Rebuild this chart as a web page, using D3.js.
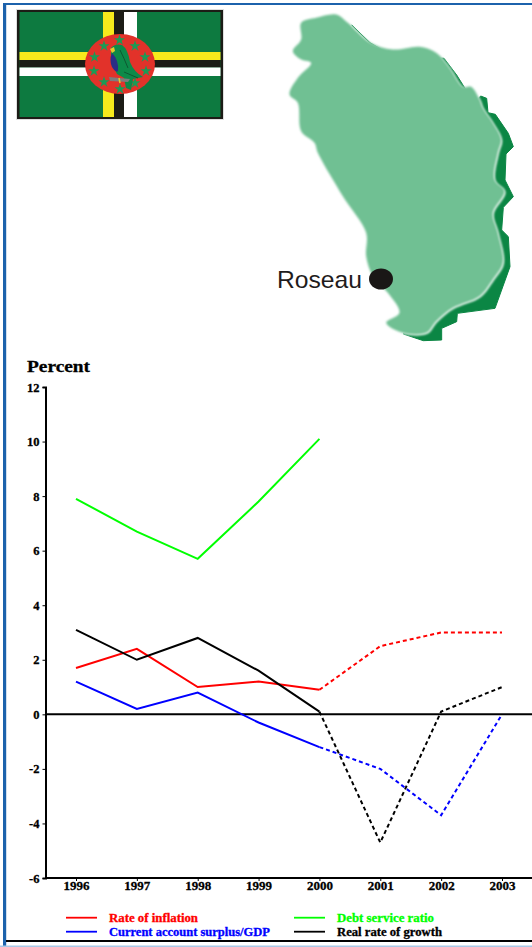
<!DOCTYPE html>
<html><head><meta charset="utf-8">
<script src="https://cdn.jsdelivr.net/npm/d3@7"></script>
<style>html,body{margin:0;padding:0;background:#fff;overflow:hidden}svg{display:block}text{font-family:"Liberation Serif",serif;font-weight:bold}</style>
</head><body><svg id="c" width="532" height="947"></svg>
<script>
const years=[1996,1997,1998,1999,2000,2001,2002,2003];
const inflation=[1.7,2.4,1.0,1.2,0.9,2.5,3.0,3.0];
const debtService=[7.9,6.7,5.7,7.8,10.1,null,null,null];
const currentAccount=[1.2,0.2,0.8,-0.3,-1.2,-2.0,-3.7,0.0];
const growth=[3.1,2.0,2.8,1.6,0.1,-4.7,0.1,1.0];
const yTicks=[-6,-4,-2,0,2,4,6,8,10,12];
const seriesNames=["Rate of inflation","Current account surplus/GDP","Debt service ratio","Real rate of growth"];
const seriesColors=["#ff0000","#0000ff","#00ff00","#000000"];
const seriesValues=[inflation,currentAccount,debtService,growth];
const lastActual=2000;

const svg=d3.select("#c");
const defs=svg.append("defs");
defs.append("filter").attr("id","soft").append("feGaussianBlur").attr("stdDeviation",1);
defs.append("filter").attr("id","flagsoft").append("feGaussianBlur").attr("stdDeviation",0.45);
defs.append("filter").attr("id","halo").append("feGaussianBlur").attr("stdDeviation",1.2);
// page frame
svg.append("rect").attr("x",3).attr("y",3).attr("width",3.2).attr("height",944).attr("fill","#1c62ac");
svg.append("rect").attr("x",3).attr("y",3).attr("width",529).attr("height",2).attr("fill","#1c62ac");
svg.append("rect").attr("x",0).attr("y",945.5).attr("width",532).attr("height",1.5).attr("fill","#a9c8e6");
svg.append("rect").attr("x",6).attr("y",940).attr("width",526).attr("height",2).attr("fill","#000");

// flag
const f=svg.append("g").attr("filter","url(#flagsoft)");
const R=(x,y,w,h,c)=>f.append("rect").attr("x",x).attr("y",y).attr("width",w).attr("height",h).attr("fill",c);
R(16,9,208,111,"#dedede");
R(17,10,206,109,"#1a1a14");
R(19.5,12,201,105,"#0f7a3f");
R(19.5,52,201,8,"#f6ea1e");R(19.5,60,201,7.5,"#1a1a14");R(19.5,67.5,201,8.5,"#fff");
R(103,12,11,105,"#f6ea1e");R(114,12,10,105,"#1a1a14");R(124,12,13,105,"#fff");
f.append("ellipse").attr("cx",120).attr("cy",64).attr("rx",35).attr("ry",30).attr("fill","#e2302a");
const star=d3.symbol().type(d3.symbolStar).size(38);
[[119.5,40],[135,46],[145,57],[146,71],[135,83],[120,89],[104,82],[94,71],[94.5,57],[104,46]].forEach(p=>{
  f.append("path").attr("d",star()).attr("transform",`translate(${p[0]},${p[1]})`).attr("fill","#1d9a55");
});
f.append("path").attr("d","M111 48Q115 43 122 45Q128 49 130 62Q134 72 143 77L133 79L131 90L126 88L124 78L117 74Q110 62 111 48Z").attr("fill","#0f8a4a");
f.append("path").attr("d","M112 53Q109 60 112 67Q116 73 118 71Q119 60 112 53Z").attr("fill","#2b2f86");
f.append("path").attr("d","M110 49L114 47L115 51L112 53Z").attr("fill","#e9c92c");
f.append("path").attr("d","M120 50Q124 58 128 68M124 72L138 78").attr("fill","none").attr("stroke","#0a4a2a").attr("stroke-width",0.8);
f.append("path").attr("d","M109 77L130 79L128 82L110 81Z").attr("fill","#7d7d7d");
f.append("path").attr("d","M119 78L120 83").attr("stroke","#e9c92c").attr("stroke-width",1.5);

// island
const toMap=p=>[260+p[0]/3,p[1]/3];
const darkShape=[[275,75],[330,128],[400,170],[480,170],[552,175],[590,225],[615,265],[650,300],[662,288],[680,295],[684,338],[706,343],[745,400],[760,440],[738,462],[735,540],[760,590],[730,622],[725,690],[745,710],[750,800],[705,925],[592,940],[590,965],[545,985],[545,1020],[490,1022],[430,1002],[500,800],[500,300]].map(toMap);
const lightShape=[[230,45],[265,70],[330,128],[400,150],[480,142],[530,160],[570,205],[610,262],[635,262],[660,300],[670,325],[700,370],[725,420],[715,460],[705,540],[735,575],[700,640],[715,700],[730,790],[700,840],[660,890],[580,925],[530,965],[500,1000],[430,1000],[380,970],[420,940],[385,880],[340,830],[320,770],[320,700],[250,590],[175,460],[165,430],[125,395],[115,310],[90,285],[115,235],[155,190],[125,180],[100,155],[125,120],[125,70],[170,55]].map(toMap);
const closed=d3.line().curve(d3.curveCatmullRomClosed.alpha(0.5));
svg.append("path").attr("d",d3.line().curve(d3.curveLinearClosed)(darkShape)).attr("fill","#0b8644").attr("stroke","#0b8644").attr("stroke-width",1).attr("stroke-linejoin","round");
svg.append("path").attr("d",closed(lightShape)).attr("fill","#fff").attr("filter","url(#halo)").attr("transform","translate(0.5,0.5)");
svg.append("path").attr("d",closed(lightShape)).attr("fill","#6fc093").attr("filter","url(#soft)").attr("transform","translate(-0.5,-0.5)");
svg.append("ellipse").attr("cx",381).attr("cy",279).attr("rx",12).attr("ry",10.5).attr("fill","#1a1716");
svg.append("text").attr("x",277).attr("y",288).attr("font-size",24).attr("fill","#1f1c1c").attr("textLength",85).attr("lengthAdjust","spacingAndGlyphs").style("font-family","'Liberation Sans',sans-serif").style("font-weight","normal").text("Roseau");

// chart
const x=d3.scalePoint().domain(years).range([76,502]);
const y=d3.scaleLinear().domain([-6,12]).range([878,387]);
svg.append("text").attr("x",27).attr("y",372).attr("font-size",17).attr("textLength",63).attr("lengthAdjust","spacingAndGlyphs").attr("stroke","#000").attr("stroke-width",0.3).text("Percent");
const yAxis=d3.axisLeft(y).tickValues(yTicks).tickSize(3).tickPadding(3).tickFormat(d=>d);
const gy=svg.append("g").attr("transform","translate(45.5,0)").call(yAxis);
gy.selectAll("text").attr("font-size",12.5).attr("fill","#000").attr("stroke","#000").attr("stroke-width",0.3);
gy.selectAll(".domain").attr("stroke","#000").attr("stroke-width",2);
gy.selectAll("line").attr("stroke","#000").attr("stroke-width",1);
const xAxis=d3.axisBottom(x).tickSize(3).tickPadding(0).tickFormat(d=>d);
const gx=svg.append("g").attr("transform","translate(0,878)").call(xAxis);
gx.select(".domain").remove();
gx.selectAll("line").attr("stroke","#000").attr("stroke-width",1);
gx.selectAll("text").attr("font-size",13).attr("fill","#000").attr("stroke","#000").attr("stroke-width",0.3);
[-6,0].forEach(v=>svg.append("line").attr("x1",45).attr("x2",532).attr("y1",y(v)).attr("y2",y(v)).attr("stroke","#000").attr("stroke-width",2));

const line=d3.line().defined(d=>d.v!==null).x(d=>x(d.yr)).y(d=>y(d.v));
seriesValues.forEach((vals,i)=>{
  const pts=vals.map((v,j)=>({yr:years[j],v}));
  svg.append("path").attr("d",line(pts.filter(d=>d.yr<=lastActual))).attr("fill","none").attr("stroke",seriesColors[i]).attr("stroke-width",2);
  const rest=pts.filter(d=>d.yr>=lastActual&&d.v!==null);
  if(rest.length>1) svg.append("path").attr("d",line(rest)).attr("fill","none").attr("stroke",seriesColors[i]).attr("stroke-width",2).attr("stroke-dasharray","4,3");
});

// legend
const lx=[66,66,294,294],ly=[917.7,931.7,917.7,931.7],lw=[89,161,97,105];
seriesNames.forEach((n,i)=>{
  svg.append("line").attr("x1",lx[i]).attr("x2",lx[i]+31).attr("y1",ly[i]).attr("y2",ly[i]).attr("stroke",seriesColors[i]).attr("stroke-width",1.8);
  svg.append("text").attr("x",i<2?109:337).attr("y",ly[i]+4.2).attr("font-size",11.5).attr("textLength",lw[i]).attr("lengthAdjust","spacingAndGlyphs").attr("fill",seriesColors[i]).attr("stroke",seriesColors[i]).attr("stroke-width",0.3).text(n);
});
</script></body></html>
